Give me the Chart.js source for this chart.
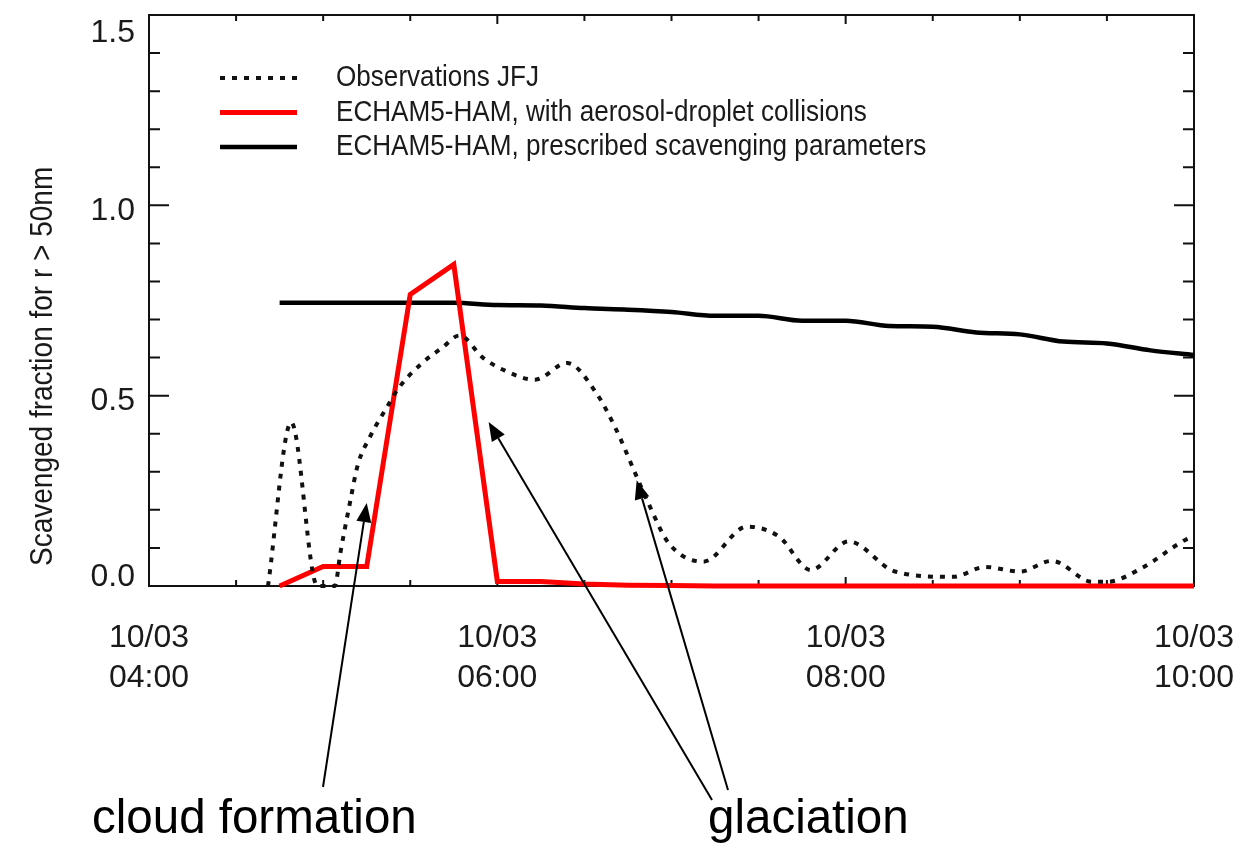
<!DOCTYPE html>
<html>
<head>
<meta charset="utf-8">
<title>Scavenged fraction</title>
<script src="https://cdn.jsdelivr.net/npm/chart.js@4.4.1/dist/chart.umd.min.js"></script>
<style>
    html, body { margin: 0; padding: 0; background: #fff; }
    #wrap { width: 1250px; height: 851px; }
</style>
</head>
<body>
<div id="wrap"><canvas id="scavChart" width="1250" height="851"></canvas></div>
<script>
// observations at Jungfraujoch (10/03)
const obsTimes = ['04:41', '04:49', '04:58', '05:04', '05:06', '05:09', '05:12', '05:16', '05:22', '05:26',
                  '05:34', '05:41', '05:47', '05:55', '06:02', '06:13', '06:24', '06:34', '06:41', '06:47',
                  '06:52', '06:59', '07:11', '07:26', '07:37', '07:48', '08:01', '08:17', '08:37', '08:48',
                  '09:00', '09:11', '09:25', '09:30', '09:42', '09:57', '10:00'];
const obsValues = [0.00, 0.43, 0.00, 0.00, 0.09, 0.21, 0.32, 0.39, 0.47, 0.52,
                   0.585, 0.626, 0.658, 0.60, 0.568, 0.542, 0.586, 0.508, 0.41, 0.305,
                   0.218, 0.113, 0.064, 0.156, 0.13, 0.042, 0.117, 0.038, 0.024, 0.05,
                   0.038, 0.066, 0.011, 0.011, 0.047, 0.121, 0.13];

// model output, every 15 min
const modelTimes = ['04:45', '05:00', '05:15', '05:30', '05:45', '06:00', '06:15', '06:30', '06:45', '07:00', '07:15',
                    '07:30', '07:45', '08:00', '08:15', '08:30', '08:45', '09:00', '09:15', '09:30', '09:45', '10:00'];
const collisionValues = [0.0, 0.051, 0.051, 0.766, 0.845, 0.012, 0.012, 0.005, 0.002, 0.001, 0.0,
                         0.0, 0.0, 0.0, 0.0, 0.0, 0.0, 0.0, 0.0, 0.0, 0.0, 0.0];
const prescribedValues = [0.744, 0.744, 0.744, 0.744, 0.744, 0.738, 0.737, 0.730, 0.726, 0.720, 0.710,
                          0.710, 0.697, 0.697, 0.683, 0.681, 0.666, 0.661, 0.642, 0.637, 0.619, 0.607];

const seriesLabels = ['Observations JFJ', 'ECHAM5-HAM, with aerosol-droplet collisions', 'ECHAM5-HAM, prescribed scavenging parameters'];
const dateLabel = '10/03';
const yTitle = 'Scavenged fraction for r > 50nm';

// annotation arrows point at (time, value) spots on the curves
const notes = [
    { text: 'cloud formation', x: 92, y: 833, arrows: [{ from: [323, 787], to: ['05:15', 0.218] }] },
    { text: 'glaciation', x: 708, y: 833, arrows: [{ from: [712, 800], to: ['05:57', 0.431] }, { from: [728, 790], to: ['06:48', 0.278] }] }
];

function toHours(t) {
    const [h, m] = t.split(':').map(Number);
    return h + m / 60;
}

function pairs(times, values) {
    return times.map((t, i) => ({ x: toHours(t), y: values[i] }));
}

function isMajorY(v) {
    return Math.abs(v * 2 - Math.round(v * 2)) < 1e-6;
}

const FONT = '"Liberation Sans", Arial, Helvetica, sans-serif';

// text squeezed a little sideways, like the original IDL output
function narrowText(ctx, text, x, y, size, squeeze) {
    ctx.save();
    ctx.translate(x, y);
    ctx.scale(squeeze, 1);
    ctx.font = size + 'px ' + FONT;
    ctx.fillText(text, 0, 0);
    ctx.restore();
}

const frameTicks = {
    id: 'frameTicks',
    beforeDatasetsDraw(chart) {
        const { ctx, chartArea: a, scales: { x, y } } = chart;
        ctx.save();
        ctx.strokeStyle = '#111';
        ctx.lineWidth = 2;
        ctx.strokeRect(a.left, a.top, a.right - a.left, a.bottom - a.top);
        ctx.beginPath();
        x.ticks.forEach(t => {
            const px = x.getPixelForValue(t.value);
            const len = t.value % 2 === 0 ? 9 : 6;
            ctx.moveTo(px, a.bottom); ctx.lineTo(px, a.bottom - len);
            ctx.moveTo(px, a.top); ctx.lineTo(px, a.top + len);
        });
        y.ticks.forEach(t => {
            const py = y.getPixelForValue(t.value);
            const len = isMajorY(t.value) ? 20 : 11;
            ctx.moveTo(a.left, py); ctx.lineTo(a.left + len, py);
            ctx.moveTo(a.right, py); ctx.lineTo(a.right - len, py);
        });
        ctx.stroke();

        // y tick labels, kept inside the axis span the way IDL places them
        ctx.fillStyle = '#1a1a1a';
        ctx.font = '32px ' + FONT;
        ctx.textAlign = 'right';
        ctx.textBaseline = 'middle';
        y.ticks.forEach(t => {
            if (!isMajorY(t.value)) return;
            const py = y.getPixelForValue(t.value);
            const ly = Math.min(Math.max(py + 6, a.top + 18), a.bottom - 9);
            ctx.fillText(t.value.toFixed(1), a.left - 14, ly);
        });
        ctx.restore();
    }
};

const legendBox = {
    id: 'legendBox',
    afterDatasetsDraw(chart) {
        const { ctx } = chart;
        ctx.save();
        chart.data.datasets.forEach((ds, i) => {
            const yy = 78 + i * 34.5;
            ctx.beginPath();
            ctx.strokeStyle = ds.borderColor;
            ctx.lineWidth = ds.borderWidth;
            ctx.setLineDash(ds.borderDash || []);
            ctx.moveTo(220, yy);
            ctx.lineTo(297, yy);
            ctx.stroke();
            ctx.setLineDash([]);
            ctx.fillStyle = '#1a1a1a';
            ctx.textBaseline = 'middle';
            narrowText(ctx, ds.label, 336, yy, 29, 0.9);
        });
        ctx.restore();
    }
};

const extras = {
    id: 'extras',
    afterDraw(chart) {
        const { ctx, scales: { x, y } } = chart;
        ctx.save();
        // y axis title
        ctx.translate(52, 566);
        ctx.rotate(-Math.PI / 2);
        ctx.fillStyle = '#1a1a1a';
        ctx.textBaseline = 'alphabetic';
        narrowText(ctx, yTitle, 0, 0, 32, 0.875);
        ctx.restore();

        ctx.save();
        ctx.fillStyle = '#000';
        ctx.strokeStyle = '#000';
        ctx.lineWidth = 2;
        ctx.font = '47.5px ' + FONT;
        notes.forEach(n => {
            ctx.fillText(n.text, n.x, n.y);
            n.arrows.forEach(ar => {
                const tx = x.getPixelForValue(toHours(ar.to[0]));
                const ty = y.getPixelForValue(ar.to[1]);
                const [fx, fy] = ar.from;
                const ang = Math.atan2(ty - fy, tx - fx);
                const head = 19, half = 7.5;
                const bx = tx - head * Math.cos(ang), by = ty - head * Math.sin(ang);
                ctx.beginPath();
                ctx.moveTo(fx, fy);
                ctx.lineTo(bx, by);
                ctx.stroke();
                ctx.beginPath();
                ctx.moveTo(tx, ty);
                ctx.lineTo(bx + half * Math.sin(ang), by - half * Math.cos(ang));
                ctx.lineTo(bx - half * Math.sin(ang), by + half * Math.cos(ang));
                ctx.closePath();
                ctx.fill();
            });
        });
        ctx.restore();
    }
};

new Chart(document.getElementById('scavChart').getContext('2d'), {
    type: 'line',
    data: {
        datasets: [
            {
                label: seriesLabels[0],
                data: pairs(obsTimes, obsValues),
                borderColor: '#111',
                borderWidth: 4,
                borderDash: [5, 7],
                cubicInterpolationMode: 'monotone',
                pointRadius: 0,
                fill: false,
                clip: 8
            },
            {
                label: seriesLabels[1],
                data: pairs(modelTimes, collisionValues),
                borderColor: '#ff0000',
                borderWidth: 5,
                borderJoinStyle: 'miter',
                tension: 0,
                pointRadius: 0,
                fill: false,
                clip: 8
            },
            {
                label: seriesLabels[2],
                data: pairs(modelTimes, prescribedValues),
                borderColor: '#000',
                borderWidth: 4.5,
                cubicInterpolationMode: 'monotone',
                pointRadius: 0,
                fill: false,
                clip: 8
            }
        ]
    },
    options: {
        responsive: false,
        animation: false,
        devicePixelRatio: 1,
        layout: { padding: { top: 15, right: 56, left: 0, bottom: 0 } },
        plugins: {
            legend: { display: false },
            tooltip: { enabled: false }
        },
        scales: {
            x: {
                type: 'linear',
                min: 4,
                max: 10,
                afterFit(scale) {
                    scale.height = 265;
                    scale.paddingLeft = 0;
                    scale.paddingRight = 0;
                },
                grid: { display: false, drawTicks: false },
                border: { display: false },
                ticks: {
                    stepSize: 0.5,
                    autoSkip: false,
                    maxRotation: 0,
                    padding: 32,
                    color: '#1a1a1a',
                    font: { family: FONT, size: 32, lineHeight: 1.25 },
                    callback: v => (v % 2 === 0 ? [dateLabel, String(v).padStart(2, '0') + ':00'] : '')
                }
            },
            y: {
                min: 0,
                max: 1.5,
                afterFit(scale) {
                    scale.width = 149;
                    scale.paddingTop = 0;
                    scale.paddingBottom = 0;
                },
                grid: { display: false, drawTicks: false },
                border: { display: false },
                ticks: {
                    stepSize: 0.1,
                    autoSkip: false,
                    padding: 14,
                    color: 'rgba(0,0,0,0)',
                    font: { family: FONT, size: 32 },
                    callback: v => (isMajorY(v) ? v.toFixed(1) : '')
                }
            }
        }
    },
    plugins: [frameTicks, legendBox, extras]
});
</script>
</body>
</html>
